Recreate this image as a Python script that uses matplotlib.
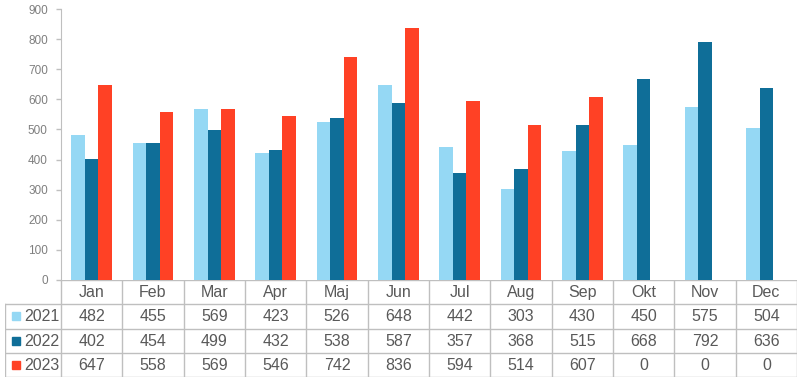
import numpy as np
import matplotlib.pyplot as plt
from matplotlib.patches import Rectangle

months = ['Jan', 'Feb', 'Mar', 'Apr', 'Maj', 'Jun', 'Jul', 'Aug', 'Sep', 'Okt', 'Nov', 'Dec']
years = ['2021', '2022', '2023']
v2021 = [482, 455, 569, 423, 526, 648, 442, 303, 430, 450, 575, 504]
v2022 = [402, 454, 499, 432, 538, 587, 357, 368, 515, 668, 792, 636]
v2023 = [647, 558, 569, 546, 742, 836, 594, 514, 607, 0, 0, 0]
colors = ['#95D8F4', '#0F6E98', '#FF4125']

W, H = 804, 383
fig = plt.figure(figsize=(W / 100, H / 100), dpi=100)
plt.rcParams['font.family'] = ['Liberation Sans', 'DejaVu Sans']

grid_c = '#BFBFBF'
txt_c = '#595959'

# chart area in pixels
x0, x1 = 61, 797
ytop, ybot = 9, 280
ax = fig.add_axes([x0 / W, (H - ybot) / H, (x1 - x0) / W, (ybot - ytop) / H])

x = np.arange(len(months))
w = 0.22
series = [v2021, v2022, v2023]
for i, vals in enumerate(series):
    ax.bar(x + (i - 1) * w, vals, w, color=colors[i], zorder=2)

ax.set_xlim(-0.5, 11.5)
ax.set_ylim(0, 900)
ax.set_yticks(range(0, 901, 100))
ax.set_xticks([])
ax.tick_params(axis='y', colors=grid_c, labelcolor='#7F7F7F', labelsize=8.5, length=3.5, width=1, pad=6)
for s in ['top', 'right', 'bottom']:
    ax.spines[s].set_visible(False)
ax.spines['left'].set_color(grid_c)

# data table below the chart
tl, tt, tb = 5, 280, 377
label_w = (x0 - tl) / ((x1 - x0) / 12)
tab = fig.add_axes([tl / W, (H - tb) / H, (x1 - tl) / W, (tb - tt) / H])
tab.set_xlim(-0.5 - label_w, 11.5)
tab.set_ylim(4, 0)
tab.axis('off')

lw = 1
# horizontal lines
tab.plot([-0.5, 11.5], [0, 0], color=grid_c, lw=lw)
for r in [1, 2, 3, 4]:
    tab.plot([-0.5 - label_w, 11.5], [r, r], color=grid_c, lw=lw)
# vertical lines
for c in range(13):
    tab.plot([c - 0.5, c - 0.5], [0, 4], color=grid_c, lw=lw)
tab.plot([-0.5 - label_w] * 2, [1, 4], color=grid_c, lw=lw)

fs = 11.5
for j, m in enumerate(months):
    tab.text(j, 0.52, m, ha='center', va='center', fontsize=fs, color=txt_c)
for i, vals in enumerate(series):
    for j, v in enumerate(vals):
        tab.text(j, i + 1.52, str(v), ha='center', va='center', fontsize=fs, color=txt_c)
    kx = -0.5 - label_w + 0.12
    tab.add_patch(Rectangle((kx, i + 1.5 - 0.17), 0.13, 0.34, color=colors[i], clip_on=False))
    tab.text(kx + 0.2, i + 1.52, years[i], ha='left', va='center', fontsize=fs, color=txt_c)

fig.savefig('out.png', dpi=100)
